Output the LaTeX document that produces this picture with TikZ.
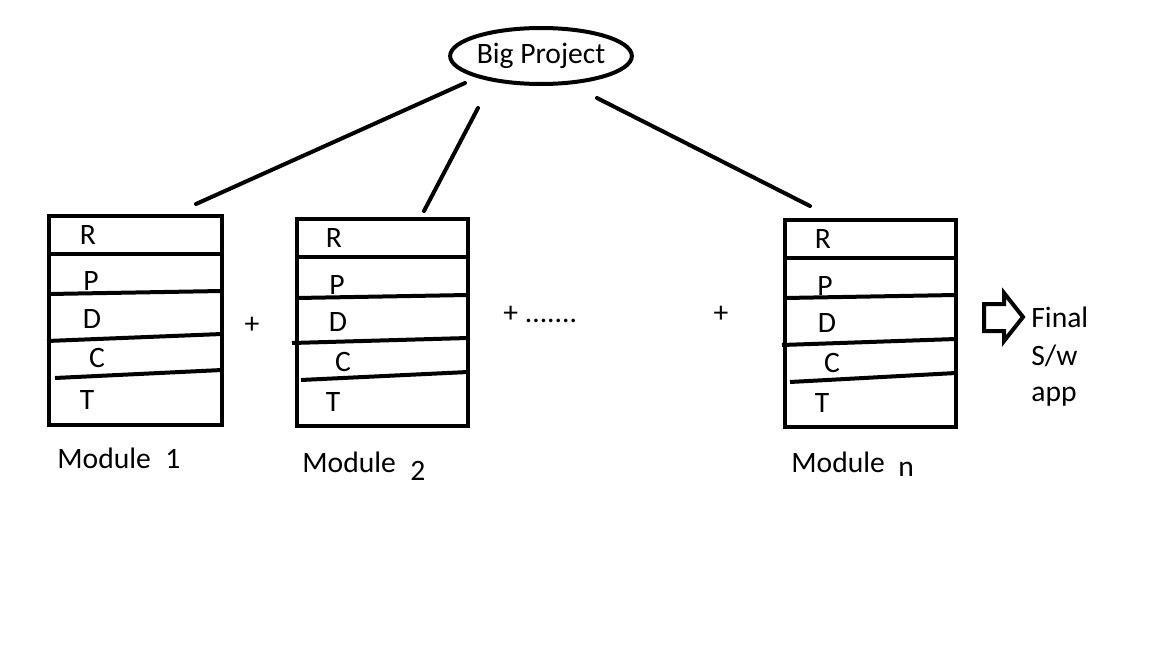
\documentclass[tikz,border=0pt]{standalone}
\usepackage{fontspec}
\setmainfont{Carlito}
\usetikzlibrary{shapes.geometric}
\begin{document}
\begin{tikzpicture}[x=0.5pt,y=-0.5pt,
  thick line/.style={line width=2pt, line cap=round},
  label text/.style={font=\fontsize{14.8}{17}\selectfont, inner sep=0pt},
  modbox/.style={draw, line width=2pt, rectangle, inner sep=0pt, outer sep=0pt},
  phase/.style={label text, anchor=center}
]
\useasboundingbox (0,0) rectangle (1152,648);

% top node
\node[draw, ellipse, line width=2pt, inner sep=0pt, minimum width=89pt, minimum height=28pt,
      font=\fontsize{14.8}{17}\selectfont] (proj) at (541,56) {Big Project};

% module boxes
\node[modbox, minimum width=86.5pt, minimum height=104.5pt] (m1) at (135.5,320.5) {};
\node[modbox, minimum width=85.5pt, minimum height=103.5pt] (m2) at (382.5,322.5) {};
\node[modbox, minimum width=85.5pt, minimum height=103.5pt] (mn) at (870.5,323.5) {};

% phase dividers, module 1
\draw[line width=2pt] (49,254) -- (222,254);
\draw[line width=2pt] (49,294) -- (222,291);
\draw[line width=2pt] (47,341) -- (222,334);
\draw[line width=2pt] (55,378) -- (222,370);
% phase dividers, module 2
\draw[line width=2pt] (297,257) -- (468,257);
\draw[line width=2pt] (297,298) -- (468,295);
\draw[line width=2pt] (292,343) -- (468,338);
\draw[line width=2pt] (301,380) -- (468,372);
% phase dividers, module n
\draw[line width=2pt] (785,258) -- (956,258);
\draw[line width=2pt] (785,298) -- (956,295);
\draw[line width=2pt] (782,345) -- (956,339);
\draw[line width=2pt] (790,382) -- (956,373);

% phase letters
\node[phase] (r1) at (88,235) {R};
\node[phase] (p1) at (91,281) {P};
\node[phase] (d1) at (92,319) {D};
\node[phase] (c1) at (97,358) {C};
\node[phase] (t1) at (87,400) {T};

\node[phase] (r2) at (334,238) {R};
\node[phase] (p2) at (337,285) {P};
\node[phase] (d2) at (338,322) {D};
\node[phase] (c2) at (343,362) {C};
\node[phase] (t2) at (333,402) {T};

\node[phase] (rn) at (823,239) {R};
\node[phase] (pn) at (825,286) {P};
\node[phase] (dn) at (827,323) {D};
\node[phase] (cn) at (832,363) {C};
\node[phase] (tn) at (822,403) {T};

% connectors from the project to the modules
\coordinate (a1) at (465,83);  \coordinate (b1) at (196,204);
\coordinate (a2) at (478,108); \coordinate (b2) at (424,211);
\coordinate (a3) at (597,98);  \coordinate (b3) at (810,206);
\draw[thick line] (a1) -- (b1);
\draw[thick line] (a2) -- (b2);
\draw[thick line] (a3) -- (b3);

% module captions
\node[label text, anchor=base west] (l1) at (57,468) {Module};
\node[label text, anchor=base west] (n1) at (165,468) {1};
\node[label text, anchor=base west] (l2) at (302,472) {Module};
\node[label text, anchor=base west] (n2) at (410,480) {2};
\node[label text, anchor=base west] (ln) at (791,472) {Module};
\node[label text, anchor=base west] (nn) at (898,476) {n};

% plus signs between modules
\node[label text] (plus1) at (252,325) {+};
\node[label text, anchor=west] (plus2) at (503,314) {+ .......};
\node[label text] (plus3) at (721,314) {+};

% outlined block arrow and result
\draw[line width=2pt, line join=miter] (984,304) -- (1004,304) -- (1004,293) -- (1023,317)
  -- (1004,341) -- (1004,331) -- (984,331) -- cycle;
\node[label text, anchor=base west] (fin1) at (1031,327) {Final};
\node[label text, anchor=base west] (fin2) at (1031,365) {S/w};
\node[label text, anchor=base west] (fin3) at (1031,401) {app};
\end{tikzpicture}
\end{document}
